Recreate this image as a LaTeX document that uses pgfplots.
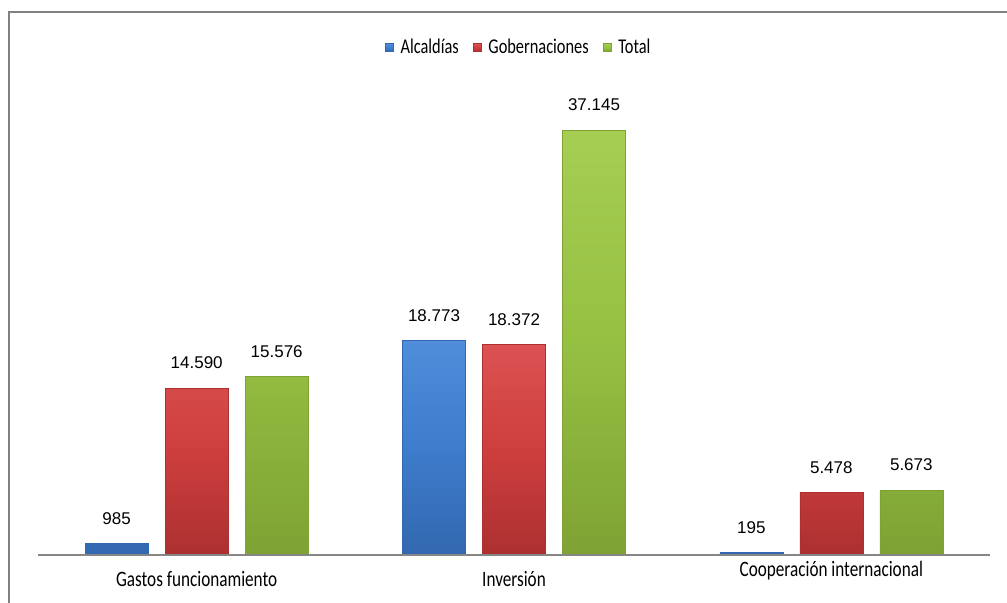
\documentclass[border=0pt]{standalone}
\usepackage{pgfplots}
\pgfplotsset{compat=1.18}
\usepackage{fontspec}
\setmainfont[FakeStretch=0.78]{Carlito}
\newfontfamily\labfont{Liberation Sans}
\definecolor{btop}{RGB}{80,142,220}
\definecolor{bmain}{RGB}{62,124,204}
\definecolor{bdark}{RGB}{50,104,175}
\definecolor{rtop}{RGB}{220,82,82}
\definecolor{rmain}{RGB}{206,62,62}
\definecolor{rdark}{RGB}{172,48,48}
\definecolor{gtop}{RGB}{165,206,82}
\definecolor{gmain}{RGB}{150,192,66}
\definecolor{gdark}{RGB}{126,162,52}
\definecolor{axgray}{RGB}{134,134,134}
\definecolor{framegray}{RGB}{128,128,128}
\begin{document}
\begin{tikzpicture}
\useasboundingbox (0,0) rectangle (503.5pt,301.5pt);
\begin{axis}[
  at={(19pt,24pt)}, anchor=south west,
  scale only axis, width=476pt, height=227.5pt,
  xmin=-0.5, xmax=2.5, ymin=0, ymax=39770,
  axis y line=none,
  axis x line*=bottom,
  x axis line style={draw=none},
  xtick={0,1,2},
  xticklabels={Gastos funcionamiento, Inversión, {\raisebox{5pt}[\height][\depth]{Cooperación internacional}}},
  major tick length=0pt,
  xticklabel style={font=\fontsize{11}{13}\selectfont, yshift=-4.5pt},
  ybar=8.5pt, bar width=31.5pt,
  clip=false,
  nodes near coords,
  nodes near coords style={font=\labfont\fontsize{8.5}{10}\selectfont, yshift=6pt, black},
  /pgf/number format/.cd, fixed, precision=0, 1000 sep={.}, assume math mode=true, /pgfplots/.cd,
  legend style={at={(axis description cs:0.506,1.115)}, anchor=center, draw=none, fill=none,
     font=\fontsize{10.5}{13}\selectfont, legend columns=-1,
     /tikz/every even column/.append style={column sep=5pt},
     /tikz/every odd column/.append style={column sep=1.5pt}},
  legend image code/.code={\draw[#1] (0pt,-2pt) rectangle (4pt,2pt);},
]
\addplot[top color=btop, bottom color=bdark, middle color=bmain, draw=bdark, line width=0.3pt] coordinates {(0,985) (1,18773) (2,195)};
\addplot[top color=rtop, bottom color=rdark, middle color=rmain, draw=rdark, line width=0.3pt] coordinates {(0,14590) (1,18372) (2,5478)};
\addplot[top color=gtop, bottom color=gdark, middle color=gmain, draw=gdark, line width=0.3pt] coordinates {(0,15576) (1,37145) (2,5673)};
\legend{Alcaldías, Gobernaciones, Total}
\draw[axgray, line width=1pt] (rel axis cs:0,0) -- (rel axis cs:1,0);
\end{axis}
\draw[framegray, line width=0.9pt] (4.5pt,-5pt) -- (4.5pt,295.5pt) -- (510pt,295.5pt);
\end{tikzpicture}
\end{document}
